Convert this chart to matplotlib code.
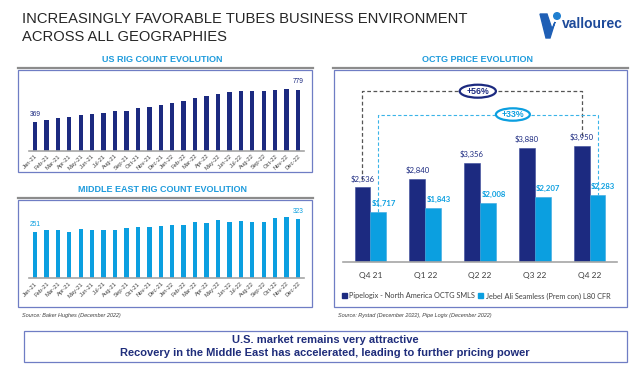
import matplotlib
matplotlib.use("Agg")
import matplotlib.pyplot as plt
from matplotlib.patches import Rectangle, Ellipse, Polygon, Circle
import numpy as np

plt.rcParams['font.family'] = ['Liberation Sans', 'DejaVu Sans']

# data
months = ["Jan-21", "Feb-21", "Mar-21", "Apr-21", "May-21", "Jun-21", "Jul-21", "Aug-21",
          "Sep-21", "Oct-21", "Nov-21", "Dec-21", "Jan-22", "Feb-22", "Mar-22", "Apr-22",
          "May-22", "Jun-22", "Jul-22", "Aug-22", "Sep-22", "Oct-22", "Nov-22", "Dec-22"]
us_rigs = [369, 396, 411, 435, 454, 465, 486, 500, 510, 542, 562, 581,
           601, 636, 665, 693, 716, 742, 757, 765, 764, 770, 782, 779]
me_rigs = [251, 260, 262, 253, 267, 264, 264, 262, 271, 276, 278, 283,
           289, 287, 303, 300, 316, 303, 311, 307, 307, 327, 330, 323]

quarters = ["Q4 21", "Q1 22", "Q2 22", "Q3 22", "Q4 22"]
pipelogix = [2536, 2840, 3356, 3880, 3950]
jebel_ali = [1717, 1843, 2008, 2207, 2283]
series_names = ["Pipelogix - North America OCTG SMLS", "Jebel Ali Seamless (Prem con) L80 CFR"]

NAVY = '#1c2a80'
LIGHT = '#0b9fe0'
TITLE_BLUE = '#1e9bdc'
BOX = '#6f7dc4'
GREY_TXT = '#404040'

W, H = 640, 367
fig = plt.figure(figsize=(W / 100, H / 100), dpi=100)


def px_axes(x0, y0, x1, y1):
    return fig.add_axes([x0 / W, 1 - y1 / H, (x1 - x0) / W, (y1 - y0) / H])


# background layer in pixel coordinates
bg = fig.add_axes([0, 0, 1, 1])
bg.set_xlim(0, W)
bg.set_ylim(H, 0)
bg.axis('off')

bg.text(22, 19, "INCREASINGLY FAVORABLE TUBES BUSINESS ENVIRONMENT", fontsize=10.6,
        color='#262626', va='center', ha='left')
bg.text(22, 37, "ACROSS ALL GEOGRAPHIES", fontsize=10.6, color='#262626', va='center', ha='left')

# logo
bg.add_patch(Polygon([(540, 14), (547, 14), (552, 29), (555, 22), (550, 38), (546, 38)],
                     closed=True, color='#1f5fb5'))
bg.add_patch(Circle((557, 16), 3.3, color='#1f7fd0'))
bg.text(562, 24, "vallourec", fontsize=10, fontweight='bold', color='#1d4a9a', va='center', ha='left')

# section titles, separators and frames
for cx, cy, txt in [(162, 60, "US RIG COUNT EVOLUTION"),
                    (162, 189, "MIDDLE EAST RIG COUNT EVOLUTION"),
                    (477, 60, "OCTG PRICE EVOLUTION")]:
    bg.text(cx, cy, txt, fontsize=6.5, fontweight='bold', color=TITLE_BLUE, ha='center', va='center')
bg.plot([18, 313], [68, 68], color='#8c8c8c', lw=1.6)
bg.plot([18, 313], [198, 198], color='#8c8c8c', lw=1.6)
bg.plot([333, 628], [68, 68], color='#8c8c8c', lw=1.6)
bg.add_patch(Rectangle((18, 70), 294, 102, fill=False, ec=BOX, lw=0.9))
bg.add_patch(Rectangle((18, 200), 294, 107, fill=False, ec=BOX, lw=0.9))
bg.add_patch(Rectangle((334, 70), 293, 237, fill=False, ec=BOX, lw=0.9))

bg.text(22, 316, "Source: Baker Hughes (December 2022)", fontsize=4, style='italic',
        color=GREY_TXT, va='center')
bg.text(338, 316, "Source: Rystad (December 2022), Pipe Logix (December 2022)", fontsize=4,
        style='italic', color=GREY_TXT, va='center')

bg.add_patch(Rectangle((24, 331), 603, 31, fill=False, ec=BOX, lw=0.9))
bg.text(325, 340, "U.S. market remains very attractive", fontsize=8, fontweight='bold',
        color='#1f2d7b', ha='center', va='center')
bg.text(325, 353, "Recovery in the Middle East has accelerated, leading to further pricing power",
        fontsize=8, fontweight='bold', color='#1f2d7b', ha='center', va='center')


def rig_chart(ax, values, color, ymax):
    x = np.arange(len(values))
    ax.bar(x, values, width=0.38, color=color)
    ax.set_xlim(-0.5, len(values) - 0.5)
    ax.set_ylim(0, ymax)
    ax.set_facecolor('none')
    for s in ['top', 'right', 'left']:
        ax.spines[s].set_visible(False)
    ax.spines['bottom'].set_color('#a6a6a6')
    ax.spines['bottom'].set_linewidth(1.2)
    ax.set_yticks([])
    ax.set_xticks(x)
    ax.set_xticklabels(months, rotation=45, ha='right', rotation_mode='anchor')
    ax.tick_params(axis='x', length=0, pad=2, labelsize=4.2, labelcolor=GREY_TXT)
    for i in [0, len(values) - 1]:
        ax.annotate(str(values[i]), (i, values[i]), xytext=(0, 3), textcoords='offset points',
                    ha='center', va='bottom', fontsize=4.8, color=color)


ax_us = px_axes(29.3, 80, 303.7, 150.7)
rig_chart(ax_us, us_rigs, NAVY, 900)

ax_me = px_axes(29.3, 210, 303.7, 278.3)
rig_chart(ax_me, me_rigs, LIGHT, 370)

# OCTG price chart
ax = px_axes(343, 79.4, 617, 262.3)
ax.set_facecolor('none')
x = np.arange(len(quarters))
bw = 0.29
ax.bar(x - bw / 2, pipelogix, width=bw, color=NAVY, edgecolor='#3a4a9a', lw=0.4)
ax.bar(x + bw / 2, jebel_ali, width=bw, color=LIGHT, edgecolor='#3aa8e0', lw=0.4)
ax.set_xlim(-0.5, len(quarters) - 0.5)
ax.set_ylim(0, 6200)
for s in ['top', 'right', 'left']:
    ax.spines[s].set_visible(False)
ax.spines['bottom'].set_color('#a6a6a6')
ax.spines['bottom'].set_linewidth(1.2)
ax.set_yticks([])
ax.set_xticks(x)
ax.set_xticklabels(quarters, family=['Lato', 'DejaVu Sans'])
ax.tick_params(axis='x', length=0, pad=7, labelsize=6, labelcolor=GREY_TXT)

for i, v in enumerate(pipelogix):
    ax.annotate("${:,}".format(v), (i - bw / 2, v), xytext=(0, 3.5), textcoords='offset points',
                ha='center', va='bottom', fontsize=5.6, color=NAVY, family=['Lato', 'DejaVu Sans'])
for i, v in enumerate(jebel_ali):
    ax.annotate("${:,}".format(v), (i + bw / 2, v), xytext=(4, 3.5), textcoords='offset points',
                ha='center', va='bottom', fontsize=5.6, color=LIGHT, fontweight='bold',
                family=['Lato', 'DejaVu Sans'])

# growth brackets
top_dark = 5800
top_light = 5010
xl, xr = x[0] - bw / 2, x[-1] - bw / 2
ax.plot([xl, xl, xr, xr], [pipelogix[0] + 250, top_dark, top_dark, pipelogix[-1] + 250],
        color='#555555', lw=0.9, dashes=(3, 2))
xl, xr = x[0] + bw / 2, x[-1] + bw / 2
ax.plot([xl, xl, xr, xr], [jebel_ali[0], top_light, top_light, jebel_ali[-1]],
        color='#3ab4e8', lw=0.8, dashes=(3, 2))
dark_growth = round((pipelogix[-1] / pipelogix[0] - 1) * 100)
light_growth = round((jebel_ali[-1] / jebel_ali[0] - 1) * 100)
ax.add_patch(Ellipse((1.96, top_dark), 0.66, 440, fc='white', ec=NAVY, lw=1.6, zorder=5))
ax.text(1.96, top_dark, "+{}%".format(dark_growth), ha='center', va='center', fontsize=6.3,
        fontweight='bold', color=NAVY, zorder=6)
ax.add_patch(Ellipse((2.6, top_light), 0.62, 420, fc='white', ec=LIGHT, lw=1.6, zorder=5))
ax.text(2.6, top_light, "+{}%".format(light_growth), ha='center', va='center', fontsize=6.3,
        fontweight='bold', color=LIGHT, zorder=6)

handles = [Rectangle((0, 0), 1, 1, color=NAVY), Rectangle((0, 0), 1, 1, color=LIGHT)]
ax.legend(handles, series_names, loc='center left', bbox_to_anchor=(342 / W, 1 - 296 / H),
          bbox_transform=fig.transFigure, ncol=2, frameon=False,
          prop={'family': ['Lato', 'DejaVu Sans'], 'size': 5.35}, labelcolor=GREY_TXT,
          handlelength=0.7, handleheight=0.7, handletextpad=0.3, columnspacing=0.4,
          borderpad=0, borderaxespad=0)

fig.savefig("out.png", dpi=100)
